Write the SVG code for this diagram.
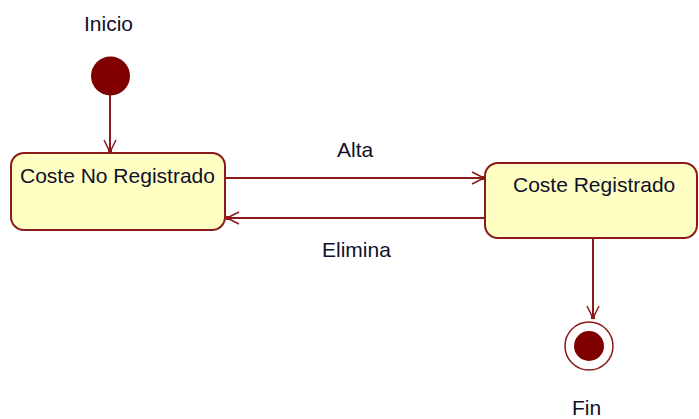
<svg xmlns="http://www.w3.org/2000/svg" width="699" height="419" viewBox="0 0 699 419">
<style>
text{font-family:"Liberation Sans",Arial,sans-serif;font-size:21px;fill:#10102a}
.state{fill:#ffffc4;stroke:#8b1a1a;stroke-width:2}
.edge{fill:none;stroke:#8b1a1a;stroke-width:2}
</style>
<defs>
<marker id="arr" markerUnits="userSpaceOnUse" markerWidth="20" markerHeight="16" refX="14" refY="8" orient="auto" overflow="visible">
<path d="M2,2 L14,8 L2,14" fill="none" stroke="#8b1a1a" stroke-width="1.5"/>
<rect x="11" y="6" width="4" height="4" fill="#8b1a1a"/>
</marker>
</defs>
<rect width="699" height="419" fill="#fff"/>
<g id="connectors">
<line class="edge" x1="110" y1="95" x2="110" y2="152" marker-end="url(#arr)"/>
<line class="edge" x1="225" y1="178" x2="484" y2="178" marker-end="url(#arr)"/>
<line class="edge" x1="485" y1="218" x2="227" y2="218" marker-end="url(#arr)"/>
<line class="edge" x1="593" y1="238" x2="593" y2="318" marker-end="url(#arr)"/>
<text x="337" y="157">Alta</text>
<text x="322" y="257">Elimina</text>
</g>
<g id="inicio">
<circle cx="110.5" cy="76" r="19.5" fill="#800000"/>
<text x="84" y="31">Inicio</text>
</g>
<g id="coste-no-registrado">
<rect class="state" x="11" y="153" width="214" height="77" rx="13" ry="13"/>
<text x="20" y="183">Coste No Registrado</text>
</g>
<g id="coste-registrado">
<rect class="state" x="485" y="163" width="212" height="75" rx="13" ry="13"/>
<text x="513" y="192">Coste Registrado</text>
</g>
<g id="fin">
<circle cx="589" cy="346" r="24" fill="#fff" stroke="#8b1a1a" stroke-width="1.5"/>
<circle cx="589" cy="346" r="15" fill="#800000"/>
<text x="572" y="415">Fin</text>
</g>
</svg>
